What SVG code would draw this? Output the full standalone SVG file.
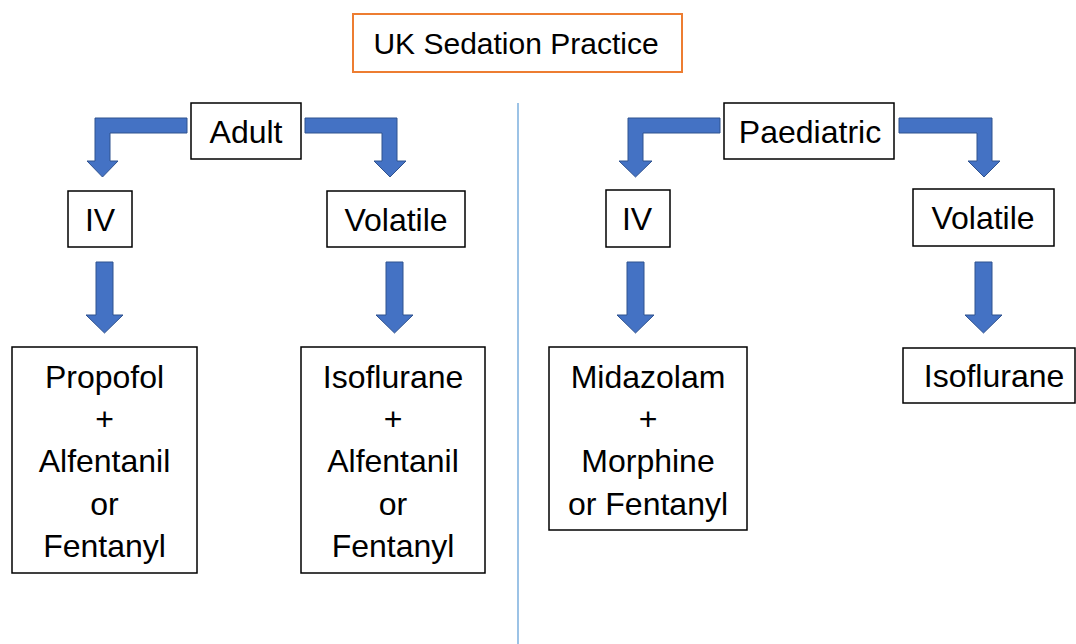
<svg xmlns="http://www.w3.org/2000/svg" width="1076" height="644" viewBox="0 0 1076 644">
<style>
.box{fill:#fff;stroke:#000;stroke-width:1.5}
.title{fill:#fff;stroke:#ED7D31;stroke-width:2}
.t{font-family:"Liberation Sans",Arial,sans-serif;font-size:32px;fill:#000;text-anchor:middle}
.tt{font-size:30px}
.arr{fill:#4472C4;stroke:#2F528F;stroke-width:1}
</style>
<rect width="1076" height="644" fill="#fff"/>
<line x1="518" y1="103" x2="518" y2="644" stroke="#5B9BD5" stroke-width="1.2"/>
<g id="connectors">
<path class="arr" d="M187,118 H95 V161 H87 L102.5,177 L118,161 H110 V133 H187 Z"/>
<path class="arr" d="M305,118 H397 V161 H406 L390,177 L374,161 H382 V133 H305 Z"/>
<path class="arr" d="M720,118 H628 V161 H619 L635.5,177 L652,161 H643 V133 H720 Z"/>
<path class="arr" d="M899,118 H992 V161 H1000 L984,177 L968,161 H977 V133 H899 Z"/>
<path class="arr" d="M96,262 H113 V315 H123 L104.5,333 L86,315 H96 Z"/>
<path class="arr" d="M386,262 H403 V315 H413 L394.5,333 L376,315 H386 Z"/>
<path class="arr" d="M627,262 H644 V315 H654 L635.5,333 L617,315 H627 Z"/>
<path class="arr" d="M975,262 H992 V315 H1002 L983.5,333 L965,315 H975 Z"/>
</g>
<g id="title"><rect class="title" x="353" y="14" width="329" height="58"/><text class="t tt" x="516" y="54">UK Sedation Practice</text></g>
<g id="adult"><rect class="box" x="191" y="103" width="110" height="56"/><text class="t" x="246" y="143">Adult</text></g>
<g id="paediatric"><rect class="box" x="724" y="103" width="170" height="56"/><text class="t" x="810" y="143">Paediatric</text></g>
<g id="adult-iv"><rect class="box" x="68" y="191" width="64" height="56"/><text class="t" x="100" y="231">IV</text></g>
<g id="adult-volatile"><rect class="box" x="327" y="191" width="138" height="56"/><text class="t" x="396" y="231">Volatile</text></g>
<g id="paed-iv"><rect class="box" x="606" y="190" width="64" height="57"/><text class="t" x="637" y="230">IV</text></g>
<g id="paed-volatile"><rect class="box" x="913" y="189" width="141" height="57"/><text class="t" x="983" y="229">Volatile</text></g>
<g id="adult-iv-drugs"><rect class="box" x="12" y="347" width="185" height="226"/>
<text class="t" x="104.5" y="388">Propofol</text><text class="t" x="104.5" y="430">+</text><text class="t" x="104.5" y="472">Alfentanil</text><text class="t" x="104.5" y="515">or</text><text class="t" x="104.5" y="557">Fentanyl</text></g>
<g id="adult-volatile-drugs"><rect class="box" x="301" y="347" width="184" height="226"/>
<text class="t" x="393" y="388">Isoflurane</text><text class="t" x="393" y="430">+</text><text class="t" x="393" y="472">Alfentanil</text><text class="t" x="393" y="515">or</text><text class="t" x="393" y="557">Fentanyl</text></g>
<g id="paed-iv-drugs"><rect class="box" x="549" y="347" width="198" height="183"/>
<text class="t" x="648" y="388">Midazolam</text><text class="t" x="648" y="430">+</text><text class="t" x="648" y="472">Morphine</text><text class="t" x="648" y="515">or Fentanyl</text></g>
<g id="paed-volatile-drugs"><rect class="box" x="903" y="348" width="172" height="55"/><text class="t" x="994" y="387">Isoflurane</text></g>
</svg>
